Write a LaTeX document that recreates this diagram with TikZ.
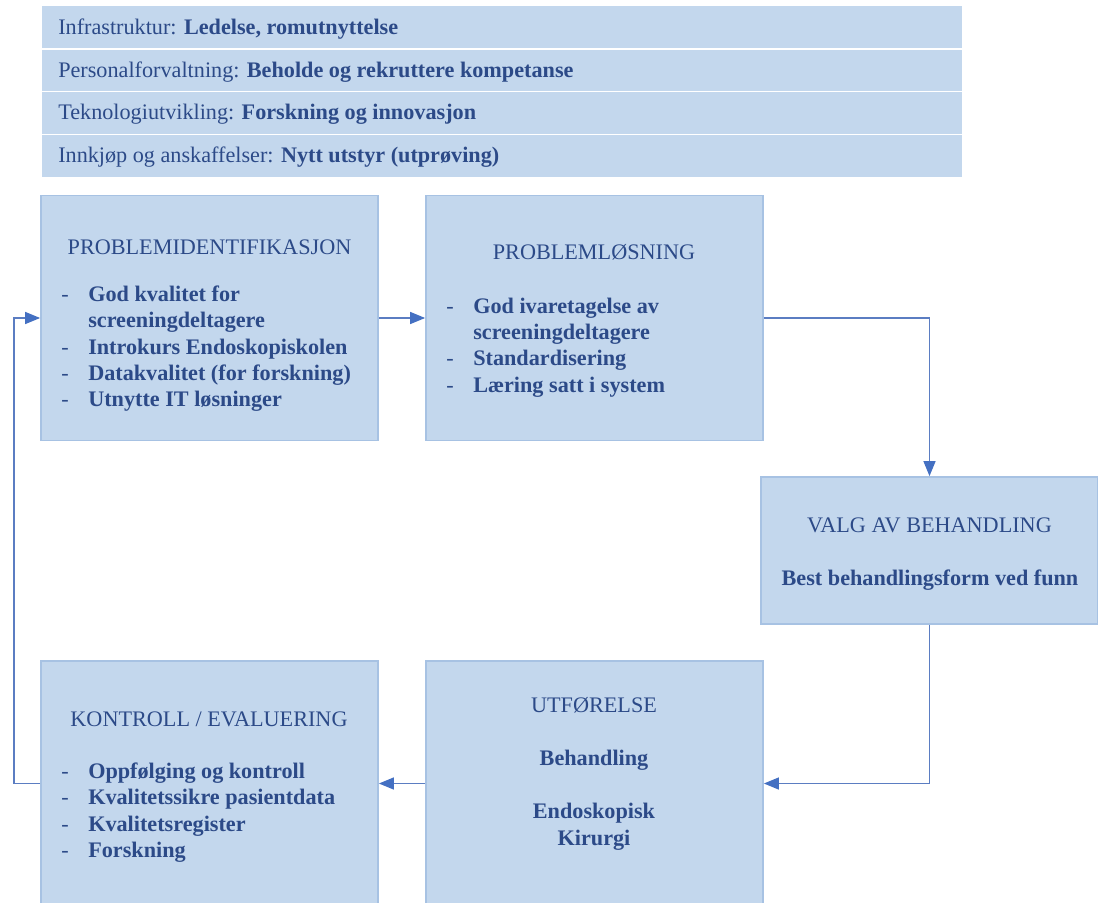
\documentclass[tikz,border=0pt]{standalone}
\usepackage{fontspec}
\setmainfont{Liberation Serif}
\usetikzlibrary{arrows.meta}
\definecolor{barfill}{HTML}{C3D7ED}
\definecolor{boxfill}{HTML}{C3D7ED}
\definecolor{boxline}{HTML}{A7C2E3}
\definecolor{txtblue}{HTML}{2C4A88}
\definecolor{arrline}{HTML}{5B7DC2}
\definecolor{arrhead}{HTML}{4470C2}
\tikzset{
  bar/.style={fill=barfill, draw=none, inner sep=0pt, minimum width=690pt, minimum height=31pt, anchor=north west},
  box/.style={fill=boxfill, draw=boxline, line width=1.3pt, inner sep=0pt, minimum width=252.75pt, minimum height=183.75pt},
  txt/.style={text=txtblue, inner sep=0pt, font=\fontsize{16.65}{19.8}\selectfont},
  bt/.style={txt, font=\fontsize{16.65}{19.8}\selectfont\bfseries},
  item/.style={bt, anchor=base west},
  arr/.style={draw=arrline, line width=1pt, -{Triangle[length=11.25pt,width=9pt,color=arrhead,fill=arrhead]}}
}
\newcommand{\dashitem}[1]{\makebox[20.25pt][l]{\mdseries -}#1}
\begin{document}
\begin{tikzpicture}[x=0.75pt,y=-0.75pt]
\useasboundingbox (0,0) rectangle (1098,902);
\begin{scope}
\clip (0,0) rectangle (1098,902);
% top bars
\node[bar] (b1) at (42,6) {};
\node[bar] (b2) at (42,49.5) {};
\node[bar] (b3) at (42,92) {};
\node[bar] (b4) at (42,135) {};
\node[txt, anchor=base west] (t1) at (58,34.5) {Infrastruktur: \textbf{Ledelse, romutnyttelse}};
\node[txt, anchor=base west] (t2) at (58,77.5) {Personalforvaltning: \textbf{Beholde og rekruttere kompetanse}};
\node[txt, anchor=base west] (t3) at (58,120) {Teknologiutvikling: \textbf{Forskning og innovasjon}};
\node[txt, anchor=base west] (t4) at (58,163) {Innkjøp og anskaffelser: \textbf{Nytt utstyr (utprøving)}};
% boxes
\node[box] (pi) at (209.5,318) {};
\node[box] (pl) at (594.5,318) {};
\node[box, minimum height=110.25pt] (valg) at (929.5,550.5) {};
\node[box] (kon) at (209.5,783.5) {};
\node[box] (utf) at (594.5,783.5) {};
% PI text
\node[txt, anchor=base] (pit) at (209.5,254) {PROBLEMIDENTIFIKASJON};
\node[item] (pi1) at (61,301.5) {\dashitem{God kvalitet for}};
\node[item] (pi2) at (88,327.8) {screeningdeltagere};
\node[item] (pi3) at (61,354.1) {\dashitem{Introkurs Endoskopiskolen}};
\node[item] (pi4) at (61,380.4) {\dashitem{Datakvalitet (for forskning)}};
\node[item] (pi5) at (61,406.7) {\dashitem{Utnytte IT løsninger}};
% PL text
\node[txt, anchor=base] (plt) at (594,259) {PROBLEMLØSNING};
\node[item] (pl1) at (446,313) {\dashitem{God ivaretagelse av}};
\node[item] (pl2) at (473,339.4) {screeningdeltagere};
\node[item] (pl3) at (446,365.8) {\dashitem{Standardisering}};
\node[item] (pl4) at (446,392.2) {\dashitem{Læring satt i system}};
% VALG text
\node[txt, anchor=base] (vt) at (929.5,532) {VALG AV BEHANDLING};
\node[bt, anchor=base] (v1) at (930,585) {Best behandlingsform ved funn};
% KONTROLL text
\node[txt, anchor=base] (kt) at (209,726) {KONTROLL / EVALUERING};
\node[item] (k1) at (61,778) {\dashitem{Oppfølging og kontroll}};
\node[item] (k2) at (61,804.5) {\dashitem{Kvalitetssikre pasientdata}};
\node[item] (k3) at (61,831) {\dashitem{Kvalitetsregister}};
\node[item] (k4) at (61,857.5) {\dashitem{Forskning}};
% UTF text
\node[txt, anchor=base] (ut) at (594,712) {UTFØRELSE};
\node[bt, anchor=base] (u1) at (594,765) {Behandling};
\node[bt, anchor=base] (u2) at (594,818) {Endoskopisk};
\node[bt, anchor=base] (u3) at (594,845) {Kirurgi};
% connectors
\coordinate (lx) at (14,0);
\draw[arr] (pi.east) -- (pl.west);
\draw[arr] (pl.east) -| (valg.north);
\draw[arr] (valg.south) |- (utf.east);
\draw[arr] (utf.west) -- (kon.east);
\draw[arr] (kon.west) -- (kon.west -| lx) |- (pi.west);
\end{scope}
\end{tikzpicture}
\end{document}
